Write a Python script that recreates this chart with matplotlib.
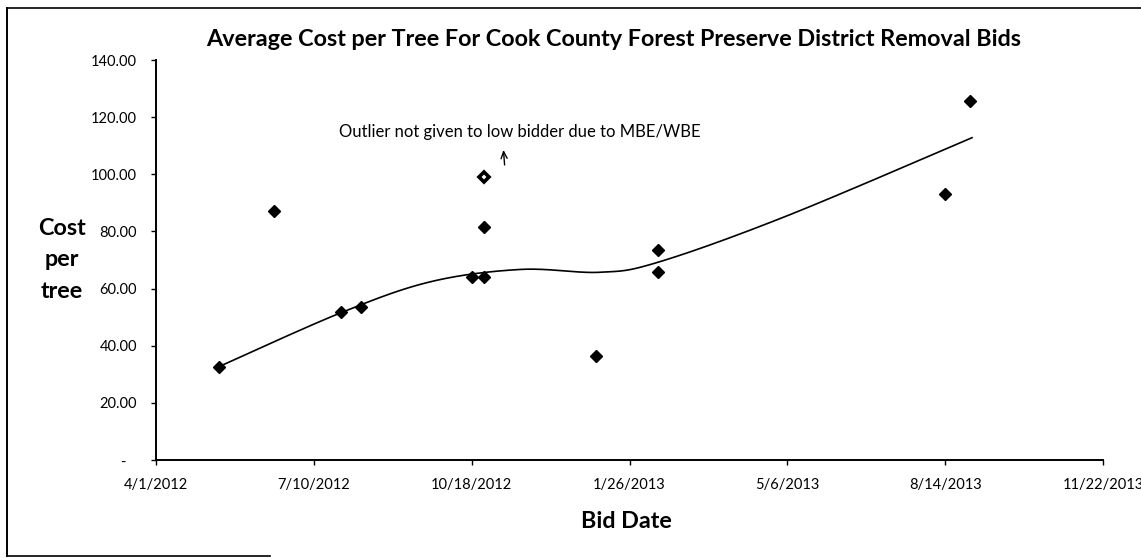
import datetime as dt
import numpy as np
import matplotlib.pyplot as plt
import matplotlib.dates as mdates
from matplotlib.lines import Line2D

plt.rcParams['font.family'] = ['Lato', 'DejaVu Sans']

# bid data
bid_dates = ['2012-05-11', '2012-06-15', '2012-07-27', '2012-08-09', '2012-10-18',
             '2012-10-26', '2012-10-26', '2013-01-05', '2013-02-13', '2013-02-13',
             '2013-08-14', '2013-08-30']
cost_per_tree = [32.7, 87.0, 51.7, 53.4, 64.2, 64.2, 81.4, 36.4, 73.5, 65.7, 93.2, 125.8]

outlier_date = ['2012-10-26']
outlier_cost = [99.2]

# trend line (smoothed)
trend_dates = ['2012-05-11', '2012-07-27', '2012-09-22', '2012-11-18', '2013-01-07',
               '2013-02-13', '2013-05-06', '2013-08-31']
trend_values = [32.7, 51.5, 62.4, 66.7, 65.7, 69.2, 85.5, 112.8]

tick_dates = ['2012-04-01', '2012-07-10', '2012-10-18', '2013-01-26',
              '2013-05-06', '2013-08-14', '2013-11-22']
y_ticks = [0, 20, 40, 60, 80, 100, 120, 140]


def to_dt(lst):
    return [dt.datetime.strptime(d, '%Y-%m-%d') for d in lst]


def smooth_line(xk, yk, n=40):
    # Excel-like smoothed line (bezier through the points)
    pts = np.column_stack([xk, yk])
    P = np.vstack([pts[0], pts, pts[-1]])
    out = []
    t = np.linspace(0, 1, n)[:, None]
    for i in range(1, len(P) - 2):
        p0, p1, p2, p3 = P[i - 1], P[i], P[i + 1], P[i + 2]
        c1 = p1 + (p2 - p0) / 6
        c2 = p2 - (p3 - p1) / 6
        out.append((1 - t) ** 3 * p1 + 3 * (1 - t) ** 2 * t * c1 + 3 * (1 - t) * t ** 2 * c2 + t ** 3 * p2)
    out = np.vstack(out)
    return out[:, 0], out[:, 1]


x = to_dt(bid_dates)
xo = to_dt(outlier_date)
xt = to_dt(tick_dates)
xtr = mdates.date2num(to_dt(trend_dates))

fig = plt.figure(figsize=(11.41, 5.58), dpi=100)
ax = fig.add_axes([156 / 1141, 1 - 460 / 558, (1103 - 156) / 1141, 400 / 558])

ax.plot(x, cost_per_tree, 'D', color='black', ms=6.4, zorder=3)
ax.plot(xo, outlier_cost, 'D', mfc='white', mec='black', mew=2.6, ms=5.6, zorder=3)

sx, sy = smooth_line(xtr, trend_values)
ax.plot(mdates.num2date(sx), sy, color='black', lw=1.2)

ax.set_xlim(xt[0], xt[-1])
ax.set_ylim(0, 140)
ax.set_xticks(xt)
ax.set_xticklabels([f'{d.month}/{d.day}/{d.year}' for d in xt])
ax.set_yticks(y_ticks)
ax.set_yticklabels(['-   ' if v == 0 else f'{v:.2f}' for v in y_ticks])
ax.tick_params(axis='both', direction='out', length=3.5, width=1, labelsize=10.5)
ax.tick_params(axis='y', pad=10)
ax.tick_params(axis='x', pad=9.5)
for s in ['top', 'right']:
    ax.spines[s].set_visible(False)
for s in ['left', 'bottom']:
    ax.spines[s].set_linewidth(1.4)

ax.annotate('Outlier not given to low bidder due to MBE/WBE',
            xy=(0.384, 0.82), xycoords='axes fraction', ha='center', va='center', fontsize=12)
ax.annotate('', xy=(dt.datetime(2012, 11, 7), 109.5), xytext=(dt.datetime(2012, 11, 8), 102.3),
            arrowprops=dict(arrowstyle='->,head_length=0.5,head_width=0.22', lw=1, color='black'))

fig.text(614 / 1141, 1 - 40 / 558, 'Average Cost per Tree For Cook County Forest Preserve District Removal Bids',
         ha='center', va='center', fontsize=16.8, fontweight='bold')
fig.text(62 / 1141, 1 - 260 / 558, 'Cost\nper\ntree', ha='center', va='center',
         fontsize=16.8, fontweight='bold', linespacing=1.6)
fig.text(626 / 1141, 1 - 522 / 558, 'Bid Date', ha='center', va='center',
         fontsize=16.8, fontweight='bold')

# chart border from the scan
fig.add_artist(Line2D([7 / 1141, 1], [1 - 8 / 558, 1 - 8 / 558], color='black', lw=1.2))
fig.add_artist(Line2D([7 / 1141, 7 / 1141], [1 - 8 / 558, 1 - 556 / 558], color='black', lw=1.4))
fig.add_artist(Line2D([7 / 1141, 270 / 1141], [1 - 556 / 558, 1 - 556 / 558], color='black', lw=1.2))

fig.savefig('out.png', dpi=100)
